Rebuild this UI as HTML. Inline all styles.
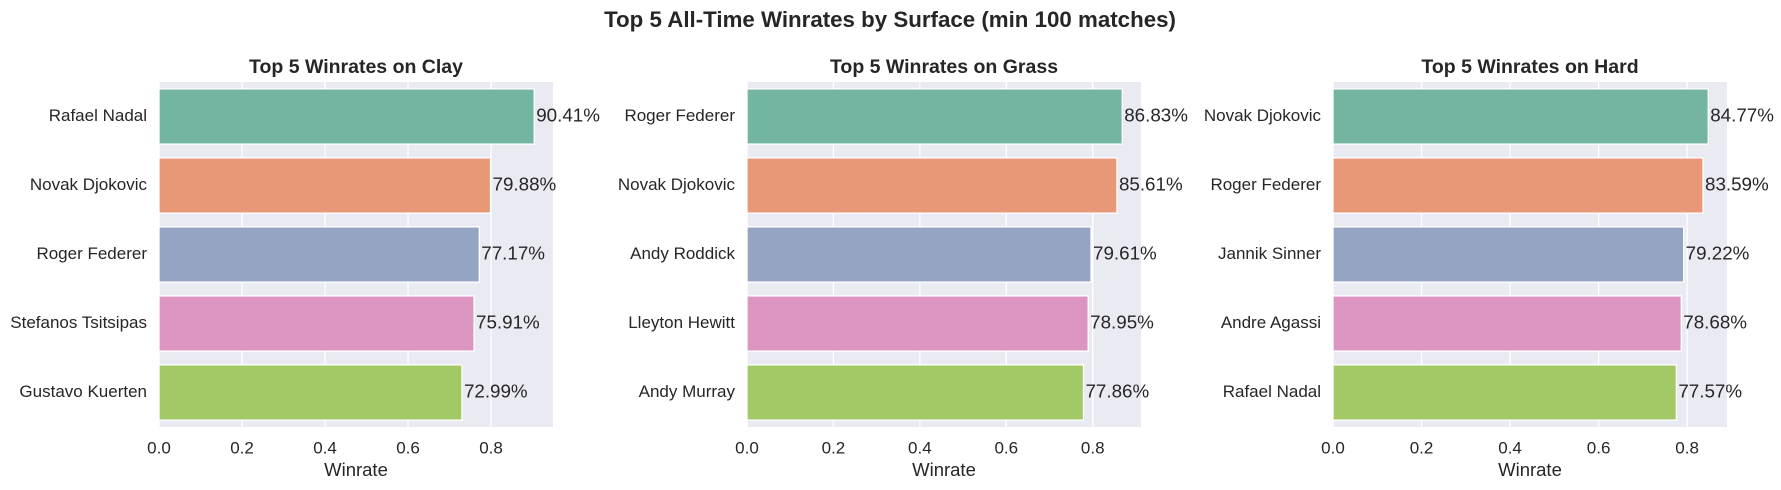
<!DOCTYPE html>
<html><head><meta charset="utf-8"><style>
body{margin:0;background:#fff;}
svg{display:block;font-family:"Liberation Sans","DejaVu Sans",sans-serif;}
</style></head><body>
<svg id="chart" width="1781" height="490">
<text x="890" y="21" text-anchor="middle" dominant-baseline="middle" font-size="22.3" font-weight="bold" fill="#262626">Top 5 All-Time Winrates by Surface (min 100 matches)</text>
</svg>
<script>
const surfaces = ["Clay","Grass","Hard"];
const clayPlayers = ["Rafael Nadal","Novak Djokovic","Roger Federer","Stefanos Tsitsipas","Gustavo Kuerten"];
const clayValues = [0.9041,0.7988,0.7717,0.7591,0.7299];
const grassPlayers = ["Roger Federer","Novak Djokovic","Andy Roddick","Lleyton Hewitt","Andy Murray"];
const grassValues = [0.8683,0.8561,0.7961,0.7895,0.7786];
const hardPlayers = ["Novak Djokovic","Roger Federer","Jannik Sinner","Andre Agassi","Rafael Nadal"];
const hardValues = [0.8477,0.8359,0.7922,0.7868,0.7757];
const xTicks = [0,0.2,0.4,0.6,0.8];
const tickLabels = ["0.0","0.2","0.4","0.6","0.8"];

const colors = ["#74b5a2","#e99877","#95a4c3","#dc95c1","#a3c966"];
const panels = [
  {left:159, players:clayPlayers, values:clayValues},
  {left:747, players:grassPlayers, values:grassValues},
  {left:1333, players:hardPlayers, values:hardValues}
];
const NS = "http://www.w3.org/2000/svg";
const svg = document.getElementById("chart");
const top0 = 82, bot0 = 427, width = 394;
function mk(tag, attrs, parent){
  const e = document.createElementNS(NS, tag);
  for (const k in attrs) e.setAttribute(k, attrs[k]);
  (parent||svg).appendChild(e);
  return e;
}
panels.forEach((p, pi) => {
  const surf = surfaces[pi].toLowerCase();
  const g = mk("g", {});
  
  
  const xmax = Math.max(...p.values) * 1.05;
  const xs = v => p.left + v / xmax * width;
  const n = p.players.length;
  const band = (bot0 - top0) / n;
  const yc = i => top0 + band * (i + 0.5);
  const bg = mk("rect", {x:p.left, y:top0, width:width, height:bot0-top0, fill:"#eaeaf2"}, g);
  
  
  xTicks.forEach((t, ti) => {
    const gl = mk("line", {x1:xs(t), x2:xs(t), y1:top0, y2:bot0, stroke:"#fff", "stroke-width":1.3}, g);
    
    
    const tl = mk("text", {x:xs(t), y:449, "text-anchor":"middle", "dominant-baseline":"middle", "font-size":17, fill:"#262626"}, g);
    tl.textContent = tickLabels[ti];
    
    
  });
  p.values.forEach((v, i) => {
    const bh = band * 0.8;
    const r = mk("rect", {x:xs(0), y:yc(i)-bh/2, width:xs(v)-xs(0), height:bh, fill:colors[i], stroke:"#fff", "stroke-width":1.3}, g);
    
    
    const vl = mk("text", {x:xs(v)+2, y:yc(i), "dominant-baseline":"middle", "font-size":18.8, fill:"#262626"}, g);
    vl.textContent = (v*100).toFixed(2) + "%";
    
    
    const yl = mk("text", {x:p.left-12, y:yc(i), "text-anchor":"end", "dominant-baseline":"middle", "font-size":17, fill:"#262626"}, g);
    yl.textContent = p.players[i];
    
    
  });
  const tt = mk("text", {x:p.left+width/2, y:68, "text-anchor":"middle", "dominant-baseline":"middle", "font-size":19.5, "font-weight":"bold", fill:"#262626"}, g);
  tt.textContent = "Top 5 Winrates on " + surfaces[pi];
  
  
  const xl = mk("text", {x:p.left+width/2, y:471, "text-anchor":"middle", "dominant-baseline":"middle", "font-size":18.5, fill:"#262626"}, g);
  xl.textContent = "Winrate";
  
  
});
</script>
</body></html>
